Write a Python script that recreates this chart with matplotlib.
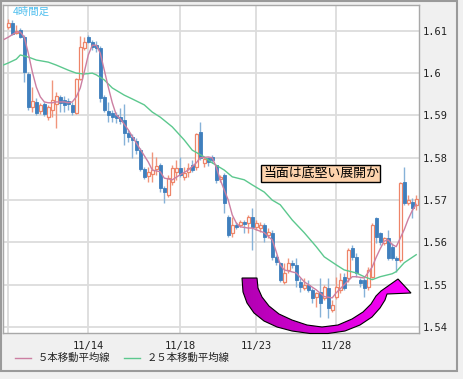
import numpy as np
import matplotlib
matplotlib.use("Agg")
import matplotlib.pyplot as plt
from matplotlib.patches import Polygon, Rectangle
from matplotlib.colors import LinearSegmentedColormap

plt.rcParams['font.family'] = ['Noto Sans CJK JP', 'DejaVu Sans']

# 4-hour candles
opens = [1.6109, 1.6118, 1.6095, 1.6102, 1.6085, 1.5998, 1.5920, 1.5932, 1.5911, 1.5927,
         1.5896, 1.5913, 1.5927, 1.5944, 1.5936, 1.5934, 1.5925, 1.5906, 1.5986, 1.6059,
         1.6085, 1.6073, 1.6066, 1.6059, 1.5944, 1.5911, 1.5906, 1.5901, 1.5896, 1.5889,
         1.5859, 1.5849, 1.5840, 1.5818, 1.5774, 1.5757, 1.5762, 1.5774, 1.5783, 1.5729,
         1.5712, 1.5743, 1.5767, 1.5776, 1.5755, 1.5767, 1.5783, 1.5778, 1.5861, 1.5788,
         1.5800, 1.5802, 1.5783, 1.5750, 1.5760, 1.5660, 1.5623, 1.5642, 1.5642, 1.5649,
         1.5646, 1.5660, 1.5637, 1.5634, 1.5642, 1.5618, 1.5623, 1.5566, 1.5552, 1.5507,
         1.5535, 1.5552, 1.5547, 1.5507, 1.5493, 1.5500, 1.5488, 1.5472, 1.5483, 1.5469,
         1.5493, 1.5441, 1.5472, 1.5488, 1.5519, 1.5516, 1.5587, 1.5566, 1.5512, 1.5512,
         1.5495, 1.5519, 1.5658, 1.5623, 1.5599, 1.5611, 1.5590, 1.5564, 1.5559, 1.5743,
         1.5693, 1.5696, 1.5689]
highs = [1.6128, 1.6125, 1.6113, 1.6106, 1.6090, 1.6003, 1.5967, 1.5941, 1.5930, 1.5932,
         1.5925, 1.5984, 1.5955, 1.5948, 1.5946, 1.5941, 1.5932, 1.5988, 1.6088, 1.6085,
         1.6090, 1.6078, 1.6076, 1.6064, 1.5948, 1.5932, 1.5913, 1.5908, 1.5918, 1.5927,
         1.5866, 1.5856, 1.5847, 1.5823, 1.5778, 1.5778, 1.5814, 1.5802, 1.5788, 1.5734,
         1.5760, 1.5783, 1.5795, 1.5802, 1.5778, 1.5788, 1.5795, 1.5859, 1.5885, 1.5802,
         1.5802, 1.5807, 1.5783, 1.5760, 1.5764, 1.5665, 1.5660, 1.5649, 1.5653, 1.5653,
         1.5665, 1.5682, 1.5653, 1.5649, 1.5646, 1.5634, 1.5630, 1.5571, 1.5554, 1.5552,
         1.5564, 1.5559, 1.5564, 1.5516, 1.5516, 1.5512, 1.5493, 1.5483, 1.5516, 1.5500,
         1.5516, 1.5465, 1.5519, 1.5528, 1.5528, 1.5587, 1.5594, 1.5575, 1.5516, 1.5516,
         1.5542, 1.5646, 1.5660, 1.5625, 1.5613, 1.5630, 1.5599, 1.5568, 1.5743, 1.5778,
         1.5712, 1.5705, 1.5712]
lows = [1.6104, 1.6090, 1.6092, 1.6083, 1.5979, 1.5913, 1.5908, 1.5901, 1.5904, 1.5899,
        1.5889, 1.5896, 1.5870, 1.5908, 1.5908, 1.5913, 1.5901, 1.5904, 1.5984, 1.6055,
        1.6071, 1.6055, 1.6050, 1.5932, 1.5908, 1.5885, 1.5885, 1.5882, 1.5880, 1.5830,
        1.5837, 1.5800, 1.5809, 1.5769, 1.5750, 1.5743, 1.5743, 1.5760, 1.5719, 1.5693,
        1.5708, 1.5736, 1.5748, 1.5755, 1.5748, 1.5755, 1.5767, 1.5771, 1.5795, 1.5778,
        1.5781, 1.5788, 1.5741, 1.5743, 1.5670, 1.5613, 1.5613, 1.5632, 1.5637, 1.5623,
        1.5623, 1.5583, 1.5630, 1.5625, 1.5601, 1.5611, 1.5559, 1.5547, 1.5507, 1.5502,
        1.5528, 1.5540, 1.5495, 1.5483, 1.5488, 1.5483, 1.5457, 1.5448, 1.5424, 1.5465,
        1.5422, 1.5436, 1.5467, 1.5481, 1.5488, 1.5507, 1.5559, 1.5519, 1.5495, 1.5472,
        1.5488, 1.5516, 1.5599, 1.5594, 1.5594, 1.5559, 1.5559, 1.5531, 1.5554, 1.5689,
        1.5689, 1.5658, 1.5677]
closes = [1.6118, 1.6092, 1.6099, 1.6085, 1.6003, 1.5920, 1.5934, 1.5906, 1.5925, 1.5904,
          1.5920, 1.5936, 1.5946, 1.5930, 1.5925, 1.5927, 1.5908, 1.5986, 1.6062, 1.6073,
          1.6073, 1.6062, 1.6059, 1.5941, 1.5913, 1.5901, 1.5896, 1.5894, 1.5887, 1.5859,
          1.5849, 1.5842, 1.5818, 1.5774, 1.5755, 1.5767, 1.5771, 1.5781, 1.5729, 1.5719,
          1.5752, 1.5776, 1.5776, 1.5760, 1.5764, 1.5776, 1.5771, 1.5856, 1.5800, 1.5797,
          1.5790, 1.5795, 1.5748, 1.5755, 1.5693, 1.5618, 1.5642, 1.5637, 1.5649, 1.5644,
          1.5660, 1.5637, 1.5646, 1.5642, 1.5613, 1.5625, 1.5566, 1.5554, 1.5512, 1.5528,
          1.5552, 1.5547, 1.5512, 1.5495, 1.5500, 1.5488, 1.5469, 1.5481, 1.5457, 1.5495,
          1.5446, 1.5453, 1.5495, 1.5512, 1.5493, 1.5583, 1.5566, 1.5528, 1.5505, 1.5493,
          1.5535, 1.5642, 1.5613, 1.5601, 1.5611, 1.5564, 1.5564, 1.5559, 1.5741, 1.5693,
          1.5700, 1.5682, 1.5703]

# moving averages as drawn on the chart (bar index, price)
ma5_idx = [-1, 0, 2, 3, 4, 5, 6, 7, 8, 9, 10, 11, 12, 14, 15, 16, 17, 18, 19, 20, 21, 22,
           23, 24, 25, 26, 27, 28, 30, 32, 35, 36, 38, 39, 41, 43, 45, 47, 48, 50, 51, 52,
           53, 55, 56, 57, 58, 60, 61, 62, 64, 66, 67, 68, 69, 72, 74, 77, 79, 81, 82, 84,
           86, 87, 89, 91, 92, 93, 94, 95, 96, 97, 98, 99, 100, 101, 102]
ma5_val = [1.6080, 1.6085, 1.6097, 1.6097, 1.6085, 1.6047, 1.6003, 1.5967, 1.5944, 1.5932,
           1.5930, 1.5930, 1.5932, 1.5932, 1.5930, 1.5932, 1.5944, 1.5965, 1.6003, 1.6043,
           1.6066, 1.6066, 1.6047, 1.6007, 1.5967, 1.5930, 1.5901, 1.5892, 1.5866, 1.5835,
           1.5790, 1.5771, 1.5767, 1.5752, 1.5748, 1.5760, 1.5771, 1.5788, 1.5800, 1.5802,
           1.5800, 1.5778, 1.5748, 1.5700, 1.5665, 1.5646, 1.5637, 1.5634, 1.5634, 1.5630,
           1.5623, 1.5606, 1.5578, 1.5547, 1.5535, 1.5528, 1.5507, 1.5488, 1.5472, 1.5469,
           1.5481, 1.5500, 1.5519, 1.5519, 1.5516, 1.5542, 1.5565, 1.5585, 1.5603, 1.5606,
           1.5595, 1.5590, 1.5610, 1.5630, 1.5655, 1.5675, 1.5690]
ma25_idx = [-1.3, 0, 2, 3, 5, 7, 10, 12, 15, 17, 19, 21, 22, 24, 26, 29, 31, 34, 36, 38,
            41, 44, 46, 49, 51, 54, 56, 59, 61, 64, 66, 68, 71, 74, 77, 79, 82, 84, 87,
            89, 91, 93, 96, 97, 99, 102]
ma25_val = [1.6019, 1.6024, 1.6033, 1.6043, 1.6038, 1.6031, 1.6026, 1.6019, 1.6007, 1.6000,
            1.5998, 1.6000, 1.5996, 1.5984, 1.5965, 1.5948, 1.5939, 1.5925, 1.5908, 1.5896,
            1.5873, 1.5842, 1.5818, 1.5802, 1.5788, 1.5771, 1.5755, 1.5748, 1.5736, 1.5719,
            1.5700, 1.5689, 1.5653, 1.5623, 1.5590, 1.5566, 1.5547, 1.5535, 1.5528, 1.5519,
            1.5512, 1.5519, 1.5526, 1.5531, 1.5552, 1.5571]

date_pos = [0, 20, 43, 62, 82]
date_labels = ['', '11/14', '11/18', '11/23', '11/28']
price_ticks = [1.54, 1.55, 1.56, 1.57, 1.58, 1.59, 1.60, 1.61]
price_labels = ['1.54', '1.55', '1.56', '1.57', '1.58', '1.59', '1.6', '1.61']

UP_EDGE = '#ee8468'
UP_WICK = '#f0957c'
DN_BODY = '#3f7fbd'
DN_WICK = '#86b2d8'

W, H = 463, 379
fig = plt.figure(figsize=(W / 100, H / 100), dpi=100)
fig.patch.set_facecolor('#f0f0f0')

ax = fig.add_axes([3 / W, (H - 333) / H, (419 - 3) / W, (333 - 5) / H])
ax.set_facecolor('white')

o = np.array(opens); h = np.array(highs); l = np.array(lows); c = np.array(closes)
x = np.arange(len(o))
up = c >= o

ax.vlines(x[up], l[up], h[up], color=UP_WICK, lw=1, zorder=3)
ax.vlines(x[~up], l[~up], h[~up], color=DN_WICK, lw=1, zorder=3)
bw = 0.72
ax.bar(x[up], c[up] - o[up], bottom=o[up], width=bw, facecolor='white',
       edgecolor=UP_EDGE, linewidth=0.9, zorder=4)
ax.bar(x[~up], o[~up] - c[~up], bottom=c[~up], width=bw, facecolor=DN_BODY,
       edgecolor=DN_BODY, linewidth=0.6, zorder=4)

ax.plot(ma25_idx, ma25_val, color='#5cc88e', lw=1, zorder=5)
ax.plot(ma5_idx, ma5_val, color='#cc7fa2', lw=1, zorder=5)

ax.set_xlim(-1.33, 102.7)
ax.set_ylim(1.5386, 1.6161)
ax.set_yticks(price_ticks)
ax.set_yticklabels(price_labels)
ax.set_xticks(date_pos)
ax.set_xticklabels(date_labels)
ax.yaxis.tick_right()
ax.tick_params(length=0, labelsize=7.5, colors='#222222')
ax.tick_params(axis='y', pad=3)
ax.tick_params(axis='x', pad=6)
for t in ax.get_xticklabels() + ax.get_yticklabels():
    t.set_family('DejaVu Sans Mono')
ax.grid(True, color='#dcdcdc', lw=1.3)
ax.set_axisbelow(True)
for s in ax.spines.values():
    s.set_color('#a8a8a8')
    s.set_linewidth(1)

# overlay in pixel coordinates for decorations
ov = fig.add_axes([0, 0, 1, 1], zorder=10)
ov.set_xlim(0, W)
ov.set_ylim(H, 0)
ov.axis('off')
ov.patch.set_alpha(0)

ov.text(13, 12, '4時間足', color='#4fbfee', fontsize=7.5, va='center', ha='left')

ov.text(263, 173.5, '当面は底堅い展開か', fontsize=9.3, va='center', ha='left', color='black',
        bbox=dict(boxstyle='square,pad=0.12', facecolor='#fdd3ad', edgecolor='black', lw=1))

# curved arrow (crescent shaft + head)
outer = [(242, 278), (243, 292), (247, 303), (254, 313), (264, 321), (277, 327), (292, 331),
         (310, 333.5), (328, 333.5), (345, 331), (360, 325), (372, 317), (380, 308), (385, 300),
         (387, 294), (411, 293), (398, 279), (381, 291)]
inner = [(376, 296), (371, 304), (363, 312), (352, 319), (338, 325), (322, 327), (307, 325),
         (292, 320), (279, 314), (269, 306), (262, 297), (258, 288), (257, 278)]
arrow = Polygon(outer + inner, closed=True, facecolor='none', edgecolor='black', lw=0.8, zorder=12)
ov.add_patch(arrow)
grad = np.linspace(0, 1, 256).reshape(1, -1)
cmap = LinearSegmentedColormap.from_list('mag', ['#b000b0', '#ff00ff'])
im = ov.imshow(grad, cmap=cmap, extent=[240, 412, 336, 276], aspect='auto', zorder=11)
im.set_clip_path(arrow)
ov.set_xlim(0, W)
ov.set_ylim(H, 0)

# legend row
ov.plot([15, 31], [358, 358], color='#cc7fa2', lw=1)
ov.text(38, 358, '５本移動平均線', fontsize=7.5, va='center', ha='left', color='#222222')
ov.plot([124, 140], [358, 358], color='#5cc88e', lw=1)
ov.text(147, 358, '２５本移動平均線', fontsize=7.5, va='center', ha='left', color='#222222')

# outer frame
ov.add_patch(Rectangle((0.5, 0.5), 456.5, 370.5, facecolor='none', edgecolor='#9a9a9a', lw=1.5))

fig.savefig('out.png', dpi=100, facecolor=fig.get_facecolor())
